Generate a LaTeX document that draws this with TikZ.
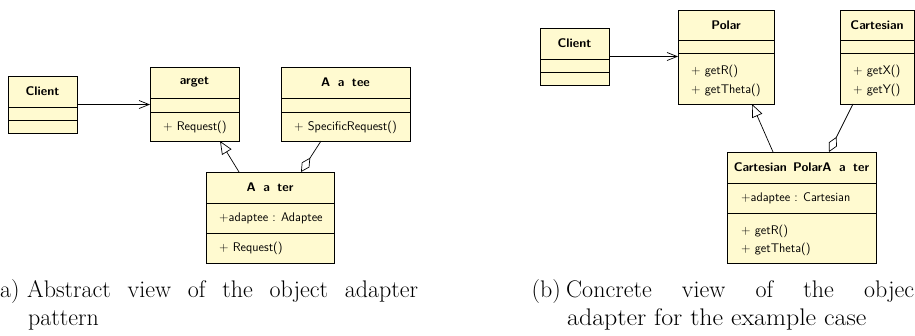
\documentclass[tikz,border=0pt]{standalone}
\usepackage{fontspec}
\usepackage{graphicx}
\usetikzlibrary{arrows.meta}
\definecolor{umlfill}{RGB}{255,250,208}
\tikzset{
  cls/.style={draw, fill=umlfill, line width=0.8pt, inner sep=0pt, outer sep=0pt, rectangle, anchor=north west},
  divl/.style={line width=0.8pt},
  ttl/.style={font=\fontsize{12.5}{14}\selectfont\sffamily\bfseries, inner sep=0pt},
  mtxt/.style={font=\fontsize{12.5}{14}\selectfont\sffamily, inner sep=0pt, anchor=west},
  captxt/.style={font=\fontsize{24}{28}\selectfont\rmfamily, inner sep=0pt, anchor=base west},
  conn/.style={line width=0.7pt},
  assoc/.style={conn, -{Straight Barb[length=10pt,width=8pt,line width=0.7pt]}},
  gener/.style={conn, -{Triangle[open,length=13pt,width=11pt,line width=0.7pt]}},
  aggr/.style={conn, {Diamond[open,length=17pt,width=9pt,line width=0.7pt]}-},
}
\begin{document}
\begin{tikzpicture}[x=1pt,y=-1pt]
\useasboundingbox (0,0) rectangle (915,335);
\clip (0,0) rectangle (915,335);

% ---------- left diagram ----------
\node[cls, minimum width=69pt, minimum height=57pt] (clientA) at (8,76) {};
\draw[divl] (clientA.west |- 0,107) -- (clientA.east |- 0,107);
\draw[divl] (clientA.west |- 0,120) -- (clientA.east |- 0,120);
\node[ttl] at (clientA.north |- 0,91.5) {Client};

\node[cls, minimum width=89pt, minimum height=74pt] (target) at (150,67) {};
\draw[divl] (target.west |- 0,98) -- (target.east |- 0,98);
\draw[divl] (target.west |- 0,112) -- (target.east |- 0,112);
\node[ttl] at (target.north |- 0,82.5) {arget};
\node[mtxt] at (163,127) {+ Request()};

\node[cls, minimum width=129pt, minimum height=74pt] (adaptee) at (281,67) {};
\draw[divl] (adaptee.west |- 0,98) -- (adaptee.east |- 0,98);
\draw[divl] (adaptee.west |- 0,112) -- (adaptee.east |- 0,112);
\node[ttl] at (adaptee.north |- 0,82.5) {A\hspace{0.6em}a\hspace{0.6em}tee};
\node[mtxt] at (294,127) {+ SpecificRequest()};

\node[cls, minimum width=128pt, minimum height=91pt] (adapter) at (206,172) {};
\draw[divl] (adapter.west |- 0,203) -- (adapter.east |- 0,203);
\draw[divl] (adapter.west |- 0,233) -- (adapter.east |- 0,233);
\node[ttl] at (adapter.north |- 0,187.5) {A\hspace{0.6em}a\hspace{0.6em}ter};
\node[mtxt] at (219,218) {+adaptee : Adaptee};
\node[mtxt] at (219,248) {+ Request()};

\draw[assoc] (clientA.east) -- (clientA.east -| target.west);
\draw[gener] ([xshift=-31pt]adapter.north) -- ([xshift=25.5pt]target.south);
\draw[aggr] ([xshift=31pt]adapter.north) -- ([xshift=-24.5pt]adaptee.south);

% ---------- right diagram ----------
\node[cls, minimum width=69pt, minimum height=57pt] (clientB) at (540,28) {};
\draw[divl] (clientB.west |- 0,59) -- (clientB.east |- 0,59);
\draw[divl] (clientB.west |- 0,72) -- (clientB.east |- 0,72);
\node[ttl] at (clientB.north |- 0,43.5) {Client};

\node[cls, minimum width=96pt, minimum height=94pt] (polar) at (678,10) {};
\draw[divl] (polar.west |- 0,40) -- (polar.east |- 0,40);
\draw[divl] (polar.west |- 0,53) -- (polar.east |- 0,53);
\node[ttl] at (polar.north |- 0,25) {Polar};
\node[mtxt] at (691,71) {+ getR()};
\node[mtxt] at (691,90.5) {+ getTheta()};

\node[cls, minimum width=74pt, minimum height=94pt] (cartesian) at (840,10) {};
\draw[divl] (cartesian.west |- 0,40) -- (cartesian.east |- 0,40);
\draw[divl] (cartesian.west |- 0,53) -- (cartesian.east |- 0,53);
\node[ttl] at (cartesian.north |- 0,25) {Cartesian};
\node[mtxt] at (853,71) {+ getX()};
\node[mtxt] at (853,90.5) {+ getY()};

\node[cls, minimum width=149pt, minimum height=111pt] (cpa) at (727,152) {};
\draw[divl] (cpa.west |- 0,183) -- (cpa.east |- 0,183);
\draw[divl] (cpa.west |- 0,213) -- (cpa.east |- 0,213);
\node[ttl] at (cpa.north |- 0,167.5) {Cartesian\hspace{0.5em}PolarA\hspace{0.6em}a\hspace{0.6em}ter};
\node[mtxt] at (741,198) {+adaptee : Cartesian};
\node[mtxt] at (741,231) {+ getR()};
\node[mtxt] at (741,249.5) {+ getTheta()};

\draw[assoc] (clientB.east) -- (clientB.east -| polar.west);
\draw[gener] ([xshift=-28.5pt]cpa.north) -- ([xshift=26pt]polar.south);
\draw[aggr] ([xshift=27.5pt]cpa.north) -- ([xshift=-24pt]cartesian.south);

% ---------- captions ----------
\node[captxt] (capAlbl) at (0,297) {a)};
\node[captxt] (capA1) at (27,297) {\hbox to 391pt{Abstract\hfill view\hfill of\hfill the\hfill object\hfill adapter}};
\node[captxt] (capA2) at (28,325) {pattern};
\node[captxt, anchor=base east] (capBlbl) at (561,297) {(b)};
\node[captxt] (capB1) at (566,297) {\hbox to 348pt{Concrete\hfill view\hfill of\hfill the\hfill objec}};
\node[captxt] (capB2) at (567,325) {\scalebox{1.08}[1]{adapter for the example case}};
\end{tikzpicture}
\end{document}
